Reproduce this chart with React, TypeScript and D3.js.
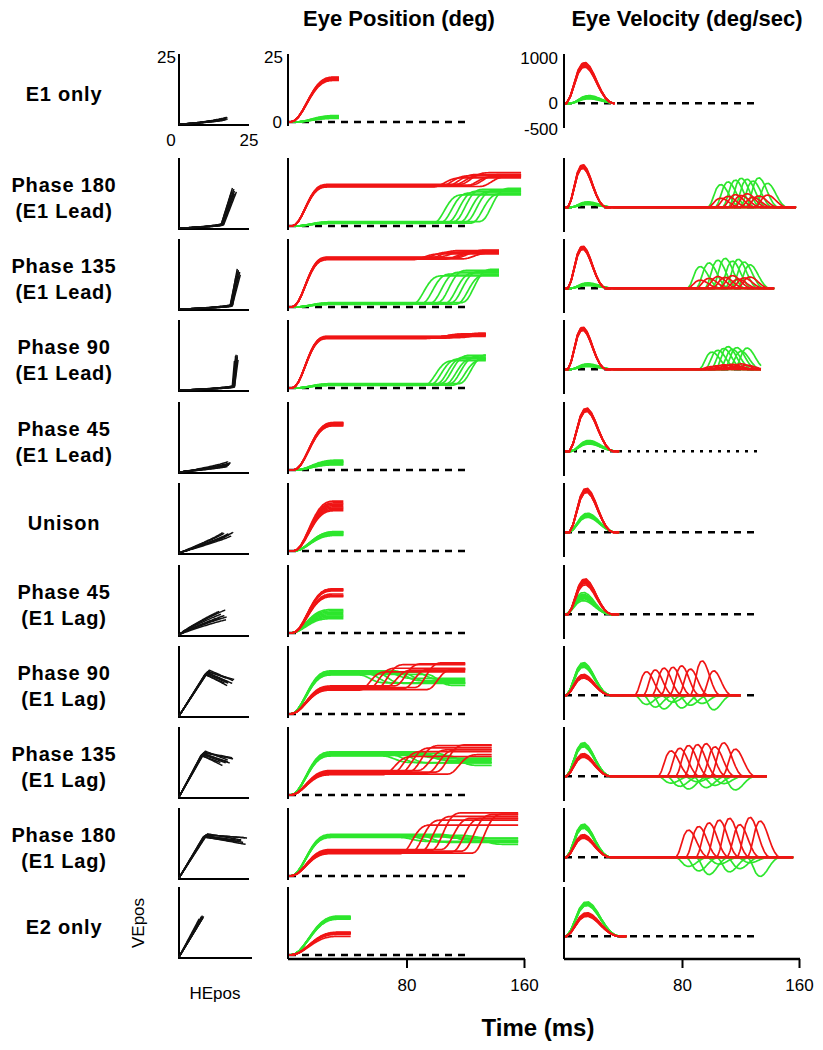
import React, { useEffect, useRef } from 'react';
import * as d3 from 'd3';

// row names, top to bottom
const rowLabels: string[][] = [
  ['E1 only'],
  ['Phase 180', '(E1 Lead)'],
  ['Phase 135', '(E1 Lead)'],
  ['Phase 90', '(E1 Lead)'],
  ['Phase 45', '(E1 Lead)'],
  ['Unison'],
  ['Phase 45', '(E1 Lag)'],
  ['Phase 90', '(E1 Lag)'],
  ['Phase 135', '(E1 Lag)'],
  ['Phase 180', '(E1 Lag)'],
  ['E2 only'],
];

const timeTicks = [80, 160];
const velTicks = [1000, 0, -500];

// normalised saccade velocity profile (shared template, peak = 1)
const velProfile = [0, 0.18, 0.5, 0.82, 0.98, 1, 0.9, 0.72, 0.5, 0.3, 0.14, 0.04, 0];

// last sample of the recorded traces (ms)
const traceEnd = [34, 158, 143, 134, 37, 37, 37, 120, 138, 156, 42];

// first saccade: onset and duration (ms) for E1 (red) and E2 (green)
const on1E1 = [1, 2, 2, 2, 3, 3, 2, 1, 1, 1, 1];
const dur1E1 = [32, 26, 26, 26, 30, 30, 30, 30, 30, 30, 36];
const on1E2 = [4, 4, 4, 4, 4, 3, 1, 1, 1, 1, 1];
const dur1E2 = [32, 30, 30, 30, 32, 32, 30, 30, 30, 30, 36];

// first saccade amplitude per trial (deg)
const e1Amp1 = [
  [16.0, 16.3, 16.6, 16.9, 17.1, 17.3, 16.5, 16.8],
  [15.0, 15.3, 15.6, 15.8, 16.0, 15.4, 15.7, 15.2],
  [18.2, 18.6, 18.9, 19.2, 18.4, 18.8, 19.0, 18.5],
  [19.0, 19.3, 19.6, 19.9, 19.2, 19.5, 19.8, 19.4],
  [17.2, 17.6, 18.0, 18.3, 17.4, 17.8, 18.1, 17.0],
  [15.5, 16.5, 17.5, 18.5, 19.2, 17.0, 18.0, 16.0],
  [14.0, 14.5, 16.5, 17.0, 15.0, 16.8, 14.3, 16.2],
  [9.2, 9.6, 10.0, 10.4, 10.8, 9.8, 10.2, 9.4],
  [7.8, 8.2, 8.6, 9.0, 9.4, 8.4, 8.8, 8.0],
  [8.6, 9.0, 9.4, 9.8, 10.2, 9.2, 9.6, 8.8],
  [7.2, 8.2, 8.5, 8.8, 8.4, 8.6, 8.0, 8.3],
];
const e2Amp1 = [
  [1.4, 1.7, 2.0, 2.3, 2.5, 1.9, 2.1, 1.6],
  [1.0, 1.2, 1.4, 1.6, 1.3, 1.5, 1.1, 1.7],
  [1.0, 1.2, 1.4, 1.6, 1.3, 1.5, 1.1, 1.7],
  [1.0, 1.2, 1.4, 1.6, 1.3, 1.5, 1.1, 1.7],
  [2.0, 2.5, 3.0, 3.4, 3.8, 2.8, 3.2, 2.2],
  [7.4, 6.0, 7.0, 6.2, 7.5, 6.4, 6.8, 7.2],
  [8.0, 6.0, 9.0, 6.5, 7.5, 5.5, 8.5, 7.0],
  [15.0, 15.4, 15.8, 16.2, 16.6, 15.6, 16.0, 15.2],
  [15.0, 15.4, 15.8, 16.2, 16.6, 15.6, 16.0, 15.2],
  [14.8, 15.1, 15.4, 15.7, 16.0, 15.3, 15.6, 15.0],
  [13.8, 14.1, 14.4, 14.7, 15.0, 14.3, 14.6, 14.0],
];

// first saccade peak velocity per trial (deg/s)
const e1Pk1 = [
  [800, 830, 860, 880, 900, 840, 870, 820],
  [860, 880, 900, 920, 940, 870, 910, 890],
  [860, 880, 900, 920, 930, 870, 910, 890],
  [860, 880, 900, 920, 930, 870, 910, 890],
  [880, 900, 920, 940, 950, 890, 930, 910],
  [880, 900, 930, 950, 970, 910, 940, 890],
  [650, 700, 740, 760, 780, 720, 750, 680],
  [380, 400, 420, 440, 460, 410, 430, 390],
  [420, 440, 460, 480, 500, 450, 470, 430],
  [420, 440, 460, 480, 500, 450, 470, 430],
  [440, 460, 480, 500, 520, 470, 490, 450],
];
const e2Pk1 = [
  [100, 120, 140, 160, 170, 130, 150, 110],
  [60, 80, 100, 120, 90, 110, 70, 100],
  [60, 80, 100, 120, 90, 110, 70, 100],
  [60, 80, 100, 120, 90, 110, 70, 100],
  [160, 180, 200, 220, 240, 190, 210, 170],
  [330, 360, 380, 400, 420, 370, 390, 350],
  [300, 360, 400, 440, 480, 380, 420, 340],
  [620, 650, 680, 700, 720, 660, 690, 640],
  [650, 680, 700, 720, 740, 690, 710, 670],
  [640, 660, 690, 710, 730, 670, 700, 650],
  [680, 700, 720, 740, 760, 710, 730, 690],
];

// second saccade (phase-shifted rows only): onset per trial (ms) and duration (ms)
const on2 = [
  [],
  [98, 103, 108, 112, 116, 120, 124, 130],
  [84, 90, 96, 101, 106, 110, 114, 118],
  [92, 96, 100, 103, 106, 109, 112, 116],
  [], [], [],
  [48, 54, 60, 66, 72, 78, 86, 94],
  [64, 70, 76, 82, 88, 94, 100, 108],
  [76, 83, 90, 97, 104, 111, 118, 125],
  [],
];
const dur2 = [0, 22, 22, 22, 0, 0, 0, 20, 22, 22, 0];

const e1Amp2 = [
  [],
  [3.5, 4.0, 4.2, 3.8, 4.5, 3.6, 4.1, 3.9],
  [2.2, 2.5, 2.8, 2.0, 2.6, 2.4, 2.9, 2.3],
  [0.8, 1.0, 1.2, 0.9, 1.1, 0.7, 1.3, 1.0],
  [], [], [],
  [7.0, 8.0, 9.0, 6.5, 8.5, 7.5, 9.5, 7.8],
  [7.0, 8.5, 9.5, 10.0, 8.0, 9.0, 10.5, 7.5],
  [11.0, 12.5, 13.5, 14.5, 12.0, 13.0, 14.0, 15.0],
  [],
];
const e2Amp2 = [
  [],
  [11.0, 11.5, 12.0, 12.5, 11.8, 12.2, 11.3, 12.8],
  [11.0, 11.5, 12.0, 12.5, 11.8, 12.2, 11.3, 12.8],
  [9.5, 10.0, 10.5, 11.0, 10.2, 10.8, 9.8, 11.2],
  [], [], [],
  [-3.0, -3.5, -4.0, -2.5, -3.8, -3.2, -2.8, -4.2],
  [-2.5, -3.0, -3.5, -2.0, -3.2, -2.8, -2.2, -3.8],
  [-1.5, -2.0, -2.5, -1.2, -2.2, -1.8, -1.0, -2.8],
  [],
];
const e1Pk2 = [
  [],
  [200, 240, 280, 260, 300, 220, 250, 270],
  [180, 220, 260, 240, 280, 200, 230, 250],
  [60, 80, 100, 90, 110, 70, 120, 90],
  [], [], [],
  [520, 560, 600, 620, 650, 580, 760, 540],
  [560, 620, 680, 700, 720, 650, 740, 600],
  [600, 680, 760, 820, 860, 720, 880, 800],
  [],
];
const e2Pk2 = [
  [],
  [500, 560, 600, 640, 620, 580, 650, 530],
  [480, 560, 620, 660, 600, 640, 580, 520],
  [380, 420, 460, 500, 440, 480, 400, 470],
  [], [], [],
  [-200, -260, -300, -150, -280, -220, -180, -320],
  [-150, -220, -280, -120, -250, -200, -160, -300],
  [-200, -300, -380, -150, -320, -250, -120, -420],
  [],
];

// layout
const rowTop = [54, 158, 239, 320, 402, 483, 565, 646, 727, 808, 887];
const RED = '#f01414';
const GREEN = '#2de62d';
const FONT = 'Liberation Sans, Arial, Helvetica, sans-serif';

type Sac = { on: number; dur: number; amp: number; pk: number };

const App = () => {
  const svgRef = useRef<SVGSVGElement>(null);
  const width = 823;
  const height = 1050;

  useEffect(() => {
    const svg = d3.select(svgRef.current);
    svg.selectAll('*').remove();

    // saccade templates
    const shapeT = velProfile.map((_, i) => i / (velProfile.length - 1));
    const cum = Array.from(d3.cumsum(velProfile));
    const posProfile = cum.map(v => v / cum[cum.length - 1]);
    const velAt = d3.scaleLinear().domain(shapeT).range(velProfile).clamp(true);
    const posAt = d3.scaleLinear().domain(shapeT).range(posProfile).clamp(true);
    const evalPos = (sacs: Sac[], t: number) => d3.sum(sacs, s => s.amp * posAt((t - s.on) / s.dur));
    const evalVel = (sacs: Sac[], t: number) => d3.sum(sacs, s => s.pk * velAt((t - s.on) / s.dur));

    const tX = d3.scaleLinear().domain([0, 160]).range([289, 524]);
    const vX = d3.scaleLinear().domain([0, 160]).range([565, 799]);
    const hX = d3.scaleLinear().domain([0, 25]).range([179, 249]);

    // column titles
    svg.append('text').attr('x', 399).attr('y', 18).attr('text-anchor', 'middle')
      .attr('dominant-baseline', 'central').attr('font-family', FONT)
      .attr('font-weight', 'bold').attr('font-size', 22).text('Eye Position (deg)');
    svg.append('text').attr('x', 687).attr('y', 18).attr('text-anchor', 'middle')
      .attr('dominant-baseline', 'central').attr('font-family', FONT)
      .attr('font-weight', 'bold').attr('font-size', 22).text('Eye Velocity (deg/sec)');

    const last = rowLabels.length - 1;

    rowLabels.forEach((lines, r) => {
      const top = rowTop[r];
      const g = svg.append('g');
      const cy = top + 40;

      lines.forEach((s, i) => {
        g.append('text')
          .attr('x', 64)
          .attr('y', cy + (i - (lines.length - 1) / 2) * 26)
          .attr('text-anchor', 'middle')
          .attr('dominant-baseline', 'central')
          .attr('font-family', FONT)
          .attr('font-weight', 'bold')
          .attr('font-size', 20)
          .attr('letter-spacing', 0.8)
          .text(s);
      });

      // build trials
      const n = e1Amp1[r].length;
      const trials = d3.range(n).map(k => {
        const red: Sac[] = [{ on: on1E1[r], dur: dur1E1[r], amp: e1Amp1[r][k], pk: e1Pk1[r][k] }];
        const green: Sac[] = [{ on: on1E2[r], dur: dur1E2[r], amp: e2Amp1[r][k], pk: e2Pk1[r][k] }];
        if (on2[r].length) {
          red.push({ on: on2[r][k], dur: dur2[r], amp: e1Amp2[r][k], pk: e1Pk2[r][k] });
          green.push({ on: on2[r][k], dur: dur2[r], amp: e2Amp2[r][k], pk: e2Pk2[r][k] });
        }
        return { red, green };
      });
      const times = d3.range(0, traceEnd[r] + 0.001, 0.5);

      const yP = d3.scaleLinear().domain([0, 25]).range([top + 68, top + 3]);
      const yV = d3.scaleLinear().domain([-500, 1000]).range([top + 72, top + 4]);
      const yH = d3.scaleLinear().domain([0, 25]).range([top + 70, top + 1]);

      // --- XY panel
      const xyBottom = r === last ? 958 : top + 71;
      g.append('line').attr('x1', 179).attr('x2', 179).attr('y1', top).attr('y2', xyBottom + 1)
        .attr('stroke', '#000').attr('stroke-width', 2);
      g.append('line').attr('x1', 178).attr('x2', r === last ? 252 : 249).attr('y1', xyBottom).attr('y2', xyBottom)
        .attr('stroke', '#000').attr('stroke-width', 2);

      trials.forEach(tr => {
        const pts: [number, number][] = times.map(t => [
          hX(Math.min(25, evalPos(tr.red, t))),
          yH(Math.min(25, evalPos(tr.green, t))),
        ]);
        g.append('path')
          .attr('d', d3.line()(pts))
          .attr('fill', 'none').attr('stroke', '#111').attr('stroke-width', 1.5)
          .attr('stroke-linejoin', 'round');
      });

      // --- position panel
      const posBottom = r === last ? 959 : top + 72;
      g.append('line').attr('x1', 288).attr('x2', 288).attr('y1', top).attr('y2', posBottom)
        .attr('stroke', '#000').attr('stroke-width', 2);
      g.append('line').attr('x1', tX(0)).attr('x2', tX(122)).attr('y1', yP(0)).attr('y2', yP(0))
        .attr('stroke', '#000').attr('stroke-width', 2.5).attr('stroke-dasharray', '7,6');

      const posLine = (sacs: Sac[]) => d3.line<number>()
        .x(t => tX(t))
        .y(t => yP(evalPos(sacs, t)))(times);
      trials.forEach(tr => {
        g.append('path').attr('d', posLine(tr.green)).attr('fill', 'none')
          .attr('stroke', GREEN).attr('stroke-width', 1.7);
      });
      trials.forEach(tr => {
        g.append('path').attr('d', posLine(tr.red)).attr('fill', 'none')
          .attr('stroke', RED).attr('stroke-width', 1.7);
      });

      // --- velocity panel
      const velBottom = r === last ? 959 : top + 74;
      g.append('line').attr('x1', 564).attr('x2', 564).attr('y1', top).attr('y2', velBottom)
        .attr('stroke', '#000').attr('stroke-width', 2);
      g.append('line').attr('x1', vX(0)).attr('x2', vX(r === 1 ? 160 : 132))
        .attr('y1', yV(0)).attr('y2', yV(0))
        .attr('stroke', '#000').attr('stroke-width', 2.5)
        .attr('stroke-dasharray', r === 4 ? '3,6' : '7,6');

      const velLine = (sacs: Sac[]) => d3.line<number>()
        .x(t => vX(t))
        .y(t => yV(evalVel(sacs, t)))(times);
      trials.forEach(tr => {
        g.append('path').attr('d', velLine(tr.green)).attr('fill', 'none')
          .attr('stroke', GREEN).attr('stroke-width', 1.7);
      });
      trials.forEach(tr => {
        g.append('path').attr('d', velLine(tr.red)).attr('fill', 'none')
          .attr('stroke', RED).attr('stroke-width', 1.7);
      });

      // tick labels on the first row only
      if (r === 0) {
        const lab = (x: number, y: number, s: string, anchor: string) =>
          g.append('text').attr('x', x).attr('y', y).attr('text-anchor', anchor)
            .attr('dominant-baseline', 'central').attr('font-family', FONT)
            .attr('font-size', 17).text(s);
        lab(176, yH(25) + 2, '25', 'end');
        lab(hX(0) - 8, 140, '0', 'middle');
        lab(hX(25), 140, '25', 'middle');
        lab(283, yP(25), '25', 'end');
        lab(282, yP(0), '0', 'end');
        velTicks.forEach(v => lab(558, yV(v) + (v < 0 ? 3 : 0), String(v), 'end'));
      }
    });

    // bottom time axes
    [tX, vX].forEach(sc => {
      const ax = svg.append('g')
        .attr('transform', 'translate(0,959)')
        .call(d3.axisBottom(sc).tickValues(timeTicks).tickSize(9).tickSizeOuter(0).tickPadding(11));
      ax.select('.domain').attr('stroke-width', 2.5).attr('d', `M${sc(0) - 1},0H${sc(160) + 1}`);
      ax.selectAll('.tick line').attr('stroke-width', 2);
      ax.selectAll('.tick text').attr('font-family', FONT).attr('font-size', 17).attr('fill', '#000');
    });

    svg.append('text').attr('x', 138).attr('y', 923).attr('text-anchor', 'middle')
      .attr('dominant-baseline', 'central').attr('font-family', FONT).attr('font-size', 17)
      .attr('transform', 'rotate(-90,138,923)').text('VEpos');
    svg.append('text').attr('x', 215).attr('y', 993).attr('text-anchor', 'middle')
      .attr('dominant-baseline', 'central').attr('font-family', FONT).attr('font-size', 17)
      .text('HEpos');
    svg.append('text').attr('x', 538).attr('y', 1027).attr('text-anchor', 'middle')
      .attr('dominant-baseline', 'central').attr('font-family', FONT)
      .attr('font-weight', 'bold').attr('font-size', 24).text('Time (ms)');
  }, []);

  return (
    <svg
      ref={svgRef}
      width={width}
      height={height}
      style={{ position: 'absolute', left: 0, top: 0, background: '#fff' }}
    />
  );
};

export default App;
